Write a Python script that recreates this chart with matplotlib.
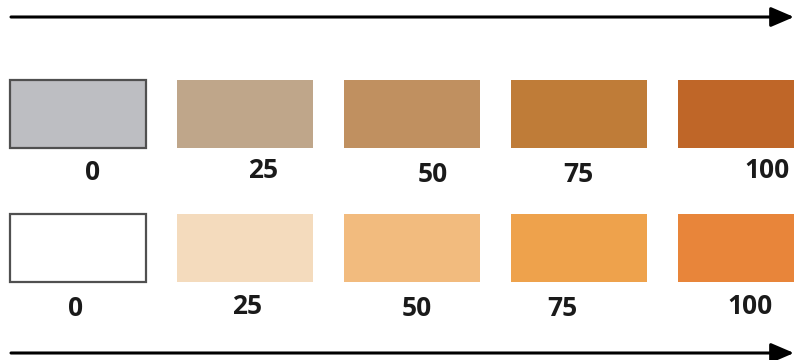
import matplotlib
matplotlib.use('Agg')
import matplotlib.pyplot as plt

levels = [0, 25, 50, 75, 100]
labels = ['0', '25', '50', '75', '100']
colors_top = ['#bdbec2', '#bfa68a', '#c09060', '#bf7c38', '#bf6628']
colors_bottom = ['#ffffff', '#f4dbbd', '#f2bb7e', '#eea24c', '#e8853a']

# label placement nudges (pixels)
lab_x_top = [93, 263, 433, 578, 767]
lab_y_top = [173, 170, 174, 174, 170]
lab_x_bot = [76, 247, 417, 562, 750]
lab_y_bot = [308, 306, 308, 308, 307]

fig = plt.figure(figsize=(7.94, 3.6), dpi=100)
ax = fig.add_axes([0, 0, 1, 1])
ax.set_xlim(0, 794)
ax.set_ylim(360, 0)
ax.axis('off')

x0, step, w, h = 78, 167, 136, 68
xs = [x0 + step * i for i in range(len(levels))]

edges = ['#505050'] + ['none'] * 4
ax.bar(xs, [h] * 5, width=w, bottom=80, color=colors_top,
       edgecolor=edges, linewidth=1.6)
ax.bar(xs, [h] * 5, width=w, bottom=214, color=colors_bottom,
       edgecolor=edges, linewidth=1.6)

for i in range(len(labels)):
    ax.text(lab_x_top[i], lab_y_top[i], labels[i], ha='center', va='center',
            fontsize=19, fontweight='bold', family='Open Sans', color='#1a1a1a')
    ax.text(lab_x_bot[i], lab_y_bot[i], labels[i], ha='center', va='center',
            fontsize=19, fontweight='bold', family='Open Sans', color='#1a1a1a')

for y in [17, 353]:
    ax.annotate('', xy=(794, y), xytext=(11, y),
                arrowprops=dict(arrowstyle='-|>,head_length=1.4,head_width=0.6',
                                color='black', lw=2.2, shrinkA=0, shrinkB=0))

fig.savefig('out.png', dpi=100)
